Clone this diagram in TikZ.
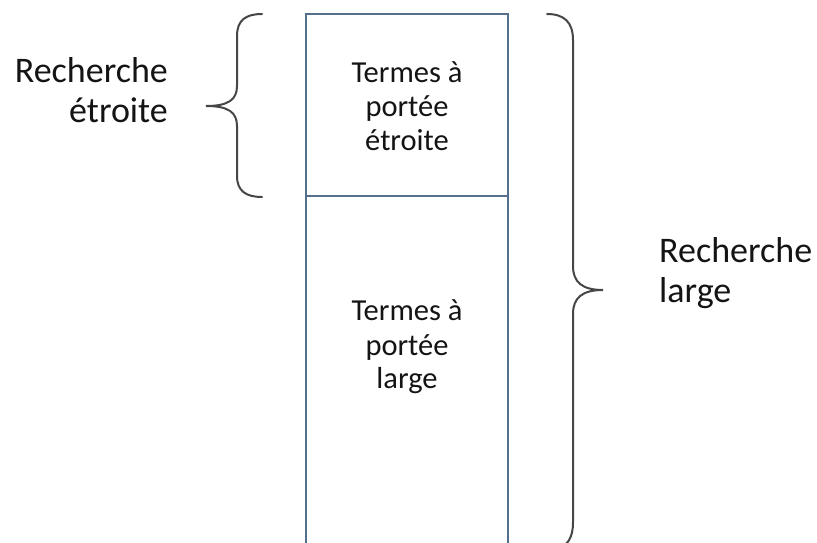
\documentclass[tikz,border=0pt]{standalone}
\usepackage{fontspec}
\setmainfont{Carlito}
\definecolor{boxline}{RGB}{84,112,140}
\definecolor{braceline}{RGB}{70,70,70}
\definecolor{txt}{RGB}{20,20,20}
\tikzset{
  boxedge/.style={draw=boxline, line width=1.3pt},
  bracestroke/.style={draw=braceline, line width=2pt, line cap=round},
  biglabel/.style={inner sep=0pt, text=txt, font=\fontsize{36}{40}\selectfont},
  inlabel/.style={inner sep=0pt, text=txt, font=\fontsize{30.5}{34}\selectfont},
}
\begin{document}
\begin{tikzpicture}[x=1pt,y=-1pt]
\useasboundingbox (0,0) rectangle (817,543);
\begin{scope}
\clip (0,0) rectangle (817,543);
% box
\coordinate (tl) at (306,14);
\coordinate (tr) at (508,14);
\coordinate (bl) at (306,560);
\coordinate (br) at (508,560);
\coordinate (ml) at (306,196);
\coordinate (mr) at (508,196);
\draw[boxedge] (bl) -- (tl) -- (tr) -- (br);
\draw[boxedge] (ml) -- (mr);
% left brace
\draw[bracestroke] (262,14) .. controls (246,14) and (237,20) .. (237,36)
  -- (237,86) .. controls (237,100) and (228,106) .. (206,106)
  .. controls (228,106) and (237,112) .. (237,126)
  -- (237,176) .. controls (237,191) and (246,197) .. (262,197);
% right brace
\draw[bracestroke] (547,14) .. controls (564,14) and (573,22) .. (573,40)
  -- (573,266) .. controls (573,282) and (582,290) .. (603,290)
  .. controls (582,290) and (573,298) .. (573,314)
  -- (573,522) .. controls (573,538) and (568,544) .. (558,550);
\end{scope}
% labels
\node[biglabel, anchor=base east] (l1) at (168,82) {Recherche};
\node[biglabel, anchor=base east] (l2) at (168,122) {étroite};
\node[biglabel, anchor=base west] (r1) at (659,262) {Recherche};
\node[biglabel, anchor=base west] (r2) at (659,302) {large};
\node[inlabel, anchor=base] (a1) at (407,82) {Termes à};
\node[inlabel, anchor=base] (a2) at (407,117) {portée};
\node[inlabel, anchor=base] (a3) at (407,150) {étroite};
\node[inlabel, anchor=base] (b1) at (407,320) {Termes à};
\node[inlabel, anchor=base] (b2) at (407,355) {portée};
\node[inlabel, anchor=base] (b3) at (407,388) {large};
\end{tikzpicture}
\end{document}
